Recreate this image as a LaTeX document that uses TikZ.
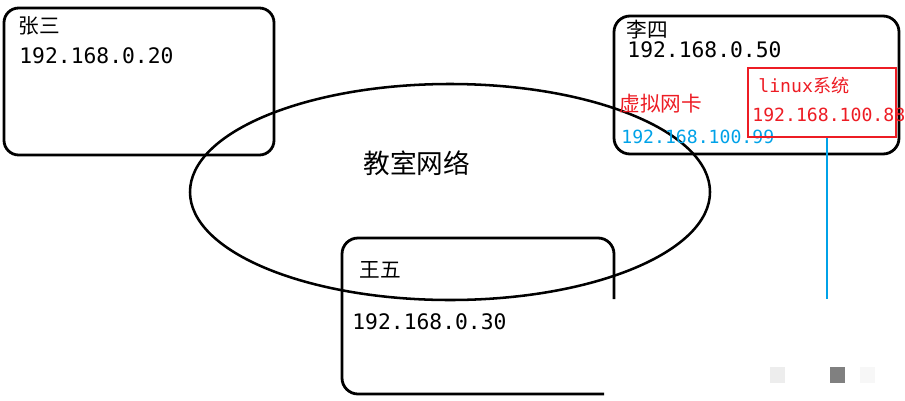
\documentclass[tikz,border=0pt]{standalone}
\usepackage{fontspec}
\setmonofont{DejaVu Sans Mono}
\newfontfamily\cjk{Noto Sans CJK SC}
\definecolor{paintred}{RGB}{237,28,36}
\definecolor{paintblue}{RGB}{0,162,232}

\begin{document}
\begin{tikzpicture}[x=0.75pt,y=-0.75pt,line width=2.1pt,
    hostname/.style={anchor=west,inner sep=0pt,font=\cjk\fontsize{15.5}{16}\selectfont},
    ip/.style={anchor=west,inner sep=0pt,font=\ttfamily\fontsize{16}{16}\selectfont},
    smallip/.style={anchor=west,inner sep=0pt,font=\ttfamily\fontsize{13.6}{14}\selectfont}]
    \useasboundingbox (0,0) rectangle (905,400);
        \draw[rounded corners=11] (4,8) rectangle (274,155);
         \node[hostname] (zs) at (17,26) {张三};
         \node[ip] (zsip) at (18,56) {192.168.0.20};
        \draw[line width=1.9pt] (450,192) ellipse [x radius=260, y radius=108];
         \node[hostname,font=\cjk\fontsize{20}{20}\selectfont] (net) at (362,163) {教室网络};
        \draw[rounded corners=12] (614,16) rectangle (899,154);
         \node[hostname] (ls) at (625,30) {李四};
         \node[ip] (lsip) at (626,50) {192.168.0.50};
         \node[hostname,text=paintred,font=\cjk\fontsize{15.5}{16}\selectfont] (vnic) at (618,104) {虚拟网卡};
         \node[smallip,text=paintblue] (vnicip) at (620,137) {192.168.100.99};
        \draw[paintred,line width=1.8pt] (748,68) rectangle (896,137);
         \node[smallip,text=paintred] (linux) at (757,86) {linux{\cjk 系统}};
         \node[smallip,text=paintred] (linuxip) at (751,115) {192.168.100.88};
        \coordinate (top) at (827,138);
        \coordinate (cut) at (827,299);
        \draw[paintblue,line width=2.2pt] (top) -- (cut);
        \draw[rounded corners=12] (604,394) -- (342,394) -- (342,238) -- (614,238) -- (614,299);
         \node[hostname] (ww) at (358,270) {王五};
         \node[ip] (wwip) at (351,322) {192.168.0.30};
        \fill[black!7] (770,367) rectangle (785,383);
        \fill[black!50] (830,367) rectangle (845,383);
        \fill[black!3] (860,367) rectangle (875,383);
    \end{tikzpicture}
\end{document}
